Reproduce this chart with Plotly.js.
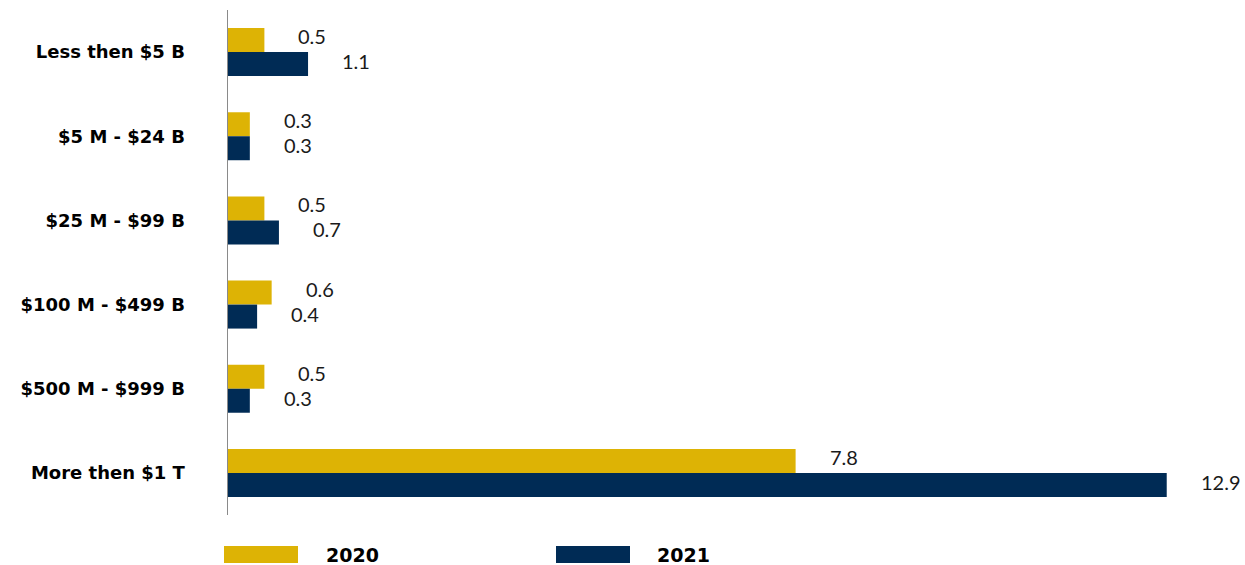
<!DOCTYPE html>
<html><head><meta charset="utf-8">
<script src="https://cdn.plot.ly/plotly-3.0.1.min.js"></script>
<style>html,body{margin:0;padding:0;background:#fff}</style>
</head><body>
<div id="chart" style="width:1245px;height:565px"></div>
<script>
const categories = ["Less then $5 B", "$5 M - $24 B", "$25 M - $99 B", "$100 M - $499 B", "$500 M - $999 B", "More then $1 T"];
const values2020 = [0.5, 0.3, 0.5, 0.6, 0.5, 7.8];
const values2021 = [1.1, 0.3, 0.7, 0.4, 0.3, 12.9];
const seriesNames = ["2020", "2021"];
const colors = ["#DDB305", "#002B55"];

const numFont = {family: "Lato, 'Noto Sans', sans-serif", size: 20, color: "#1a1a1a"};

const traces = [values2020, values2021].map((vals, k) => ({
  type: "bar", orientation: "h", name: seriesNames[k],
  x: vals, y: categories,
  marker: {color: colors[k]},
  hoverinfo: "x"
}));

const annotations = [];
[values2020, values2021].forEach((vals, k) => {
  vals.forEach((v, i) => {
    annotations.push({
      x: v, y: categories[i], xref: "x", yref: "y",
      text: v.toFixed(1), showarrow: false,
      xanchor: "left", yanchor: "middle",
      xshift: 32, yshift: k === 0 ? 16 : -9,
      font: numFont
    });
  });
});

const T = 9.9, B = 515;
const plotH = B - T;
const plotW = 1245 - 228 - 35;
function px(xpix) { return (xpix - 228) / plotW; }
function py(ypix) { return (B - ypix) / plotH; }
const legendShapes = [
  {type: "rect", xref: "paper", yref: "paper", x0: px(224), x1: px(298), y0: py(546), y1: py(563), fillcolor: colors[0], line: {width: 0}},
  {type: "rect", xref: "paper", yref: "paper", x0: px(556), x1: px(630), y0: py(546), y1: py(563), fillcolor: colors[1], line: {width: 0}}
];
const legendX = [324, 655];
seriesNames.forEach((n, k) => {
  annotations.push({
    xref: "paper", yref: "paper", x: px(legendX[k]), y: py(555),
    xanchor: "left", yanchor: "middle", showarrow: false,
    text: "<b>" + n + "</b>",
    font: {family: "'DejaVu Sans', sans-serif", size: 19, color: "#000"}
  });
});

const layout = {
  width: 1245, height: 565,
  margin: {l: 228, r: 35, t: T, b: 565 - B},
  paper_bgcolor: "#fff", plot_bgcolor: "#fff",
  barmode: "group", bargap: 0.43, bargroupgap: 0,
  showlegend: false,
  xaxis: {range: [0, 982 / 72.77], visible: false, showgrid: false, zeroline: false, fixedrange: true},
  yaxis: {
    autorange: "reversed", showgrid: false, zeroline: false,
    showline: true, linecolor: "#8a8a8a", linewidth: 1.5,
    ticks: "", ticklabelstandoff: 38,
    tickfont: {family: "'DejaVu Sans', sans-serif", size: 18, color: "#000", weight: "bold"},
    fixedrange: true
  },
  shapes: legendShapes,
  annotations: annotations
};
Plotly.newPlot("chart", traces, layout, {displayModeBar: false, staticPlot: true});
</script>
</body></html>
